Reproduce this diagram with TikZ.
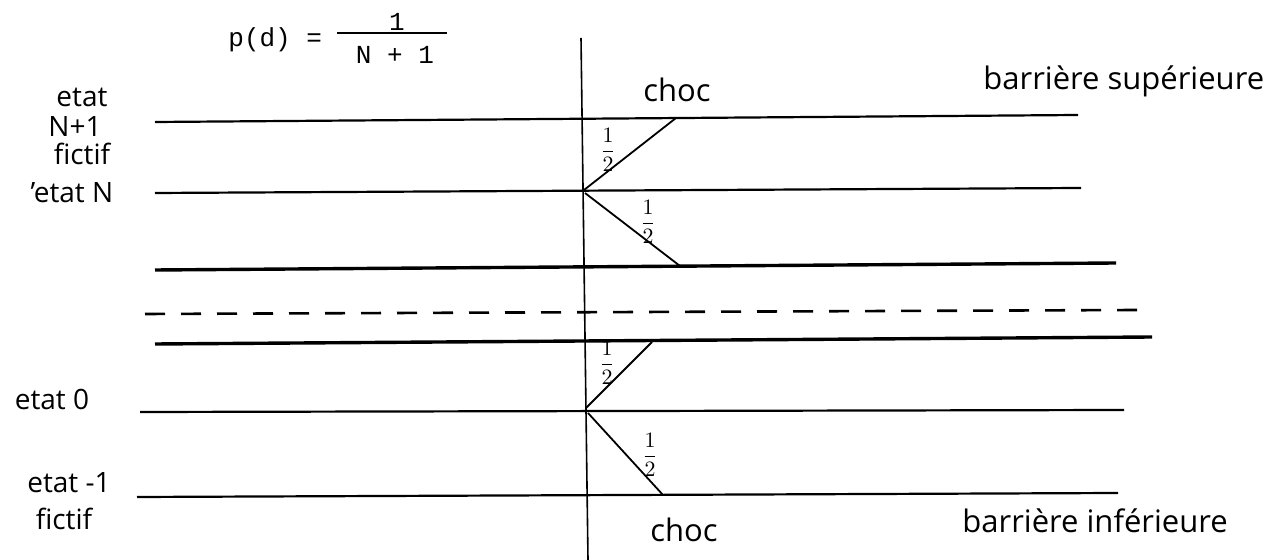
\documentclass[tikz,border=0pt]{standalone}
\usepackage{fontspec}
\setmainfont{Open Sans}
\newfontfamily\monofont{Liberation Mono}
\begin{document}
\begin{tikzpicture}[x=0.5pt,y=-0.5pt,
  hand/.style={font=\fontsize{14}{16}\selectfont, inner sep=0pt, anchor=base},
  handw/.style={font=\fontsize{15.5}{17}\selectfont, inner sep=0pt, anchor=base west},
  mono/.style={font=\monofont\fontsize{13}{14}\selectfont, inner sep=0pt},
  level/.style={line width=1.1pt},
  rough/.style={line width=1.7pt},
  dashlevel/.style={line width=1.3pt, dash pattern=on 10pt off 8pt},
  jump/.style={line width=0.9pt},
  axis/.style={line width=0.8pt},
  half/.style={font=\fontsize{11}{11}\selectfont, inner sep=0pt}
]
\useasboundingbox (0,0) rectangle (1285,560);

% formula
\node[mono, anchor=base west] (pd) at (228,47) {p(d)};
\node[mono, anchor=base west] (eq) at (306,47) {=};
\node[mono] (num) at (397,22) {1};
\node[mono] (den) at (395,55) {N + 1};
\coordinate (barl) at (337,33);
\coordinate (barr) at (447,33);
\draw[axis] (barl) -- (barr);

% left labels
\node[hand] (etat1) at (82,107) {etat};
\node[hand] (np1) at (75,137) {N+1};
\node[hand] (fict1) at (82,165) {fictif};
\node[hand] (etatN) at (72,203) {'etat N};
\node[hand] (etat0) at (52,410) {etat 0};
\node[hand] (etatm1) at (69,493) {etat -1};
\node[hand] (fict2) at (64,530) {fictif};

% right labels
\node[handw] (bsup) at (983,90) {barrière supérieure};
\node[handw] (binf) at (962,533) {barrière inférieure};
\node[handw] (choc1) at (643,102) {choc};
\node[handw] (choc2) at (650,542) {choc};

% vertical axis
\coordinate (vt) at (581,38);
\coordinate (vb) at (588,560);
\draw[axis] (vt) -- (vb);

% levels
\coordinate (l1a) at (155,122); \coordinate (l1b) at (1078,115);
\coordinate (l2a) at (155,193); \coordinate (l2b) at (1081,188);
\coordinate (l3a) at (155,270); \coordinate (l3b) at (1116,263);
\coordinate (dla) at (145,314); \coordinate (dlb) at (1137,310);
\coordinate (l4a) at (155,344); \coordinate (l4b) at (1152,337);
\coordinate (l5a) at (140,412); \coordinate (l5b) at (1124,410);
\coordinate (l6a) at (137,497); \coordinate (l6b) at (1118,493);
\draw[level] (l1a) -- (l1b);
\draw[level] (l2a) -- (l2b);
\draw[rough] (l3a) -- (l3b);
\draw[dashlevel] (dla) -- (dlb);
\draw[rough] (l4a) -- (l4b);
\draw[level] (l5a) -- (l5b);
\draw[level] (l6a) -- (l6b);

% transitions
\coordinate (s1) at (584,190); \coordinate (e1) at (676,118);
\coordinate (s2) at (585,193); \coordinate (e2) at (680,266);
\coordinate (s3) at (586,408); \coordinate (e3) at (652,342);
\coordinate (s4) at (588,413); \coordinate (e4) at (663,495);
\draw[jump] (s1) -- (e1);
\draw[jump] (s2) -- (e2);
\draw[jump] (s3) -- (e3);
\draw[jump] (s4) -- (e4);

% probabilities
\node[half] (h1) at (608,150) {$\displaystyle\frac{1}{2}$};
\node[half] (h2) at (648,222) {$\displaystyle\frac{1}{2}$};
\node[half] (h3) at (607,363) {$\displaystyle\frac{1}{2}$};
\node[half] (h4) at (650,455) {$\displaystyle\frac{1}{2}$};
\end{tikzpicture}
\end{document}
